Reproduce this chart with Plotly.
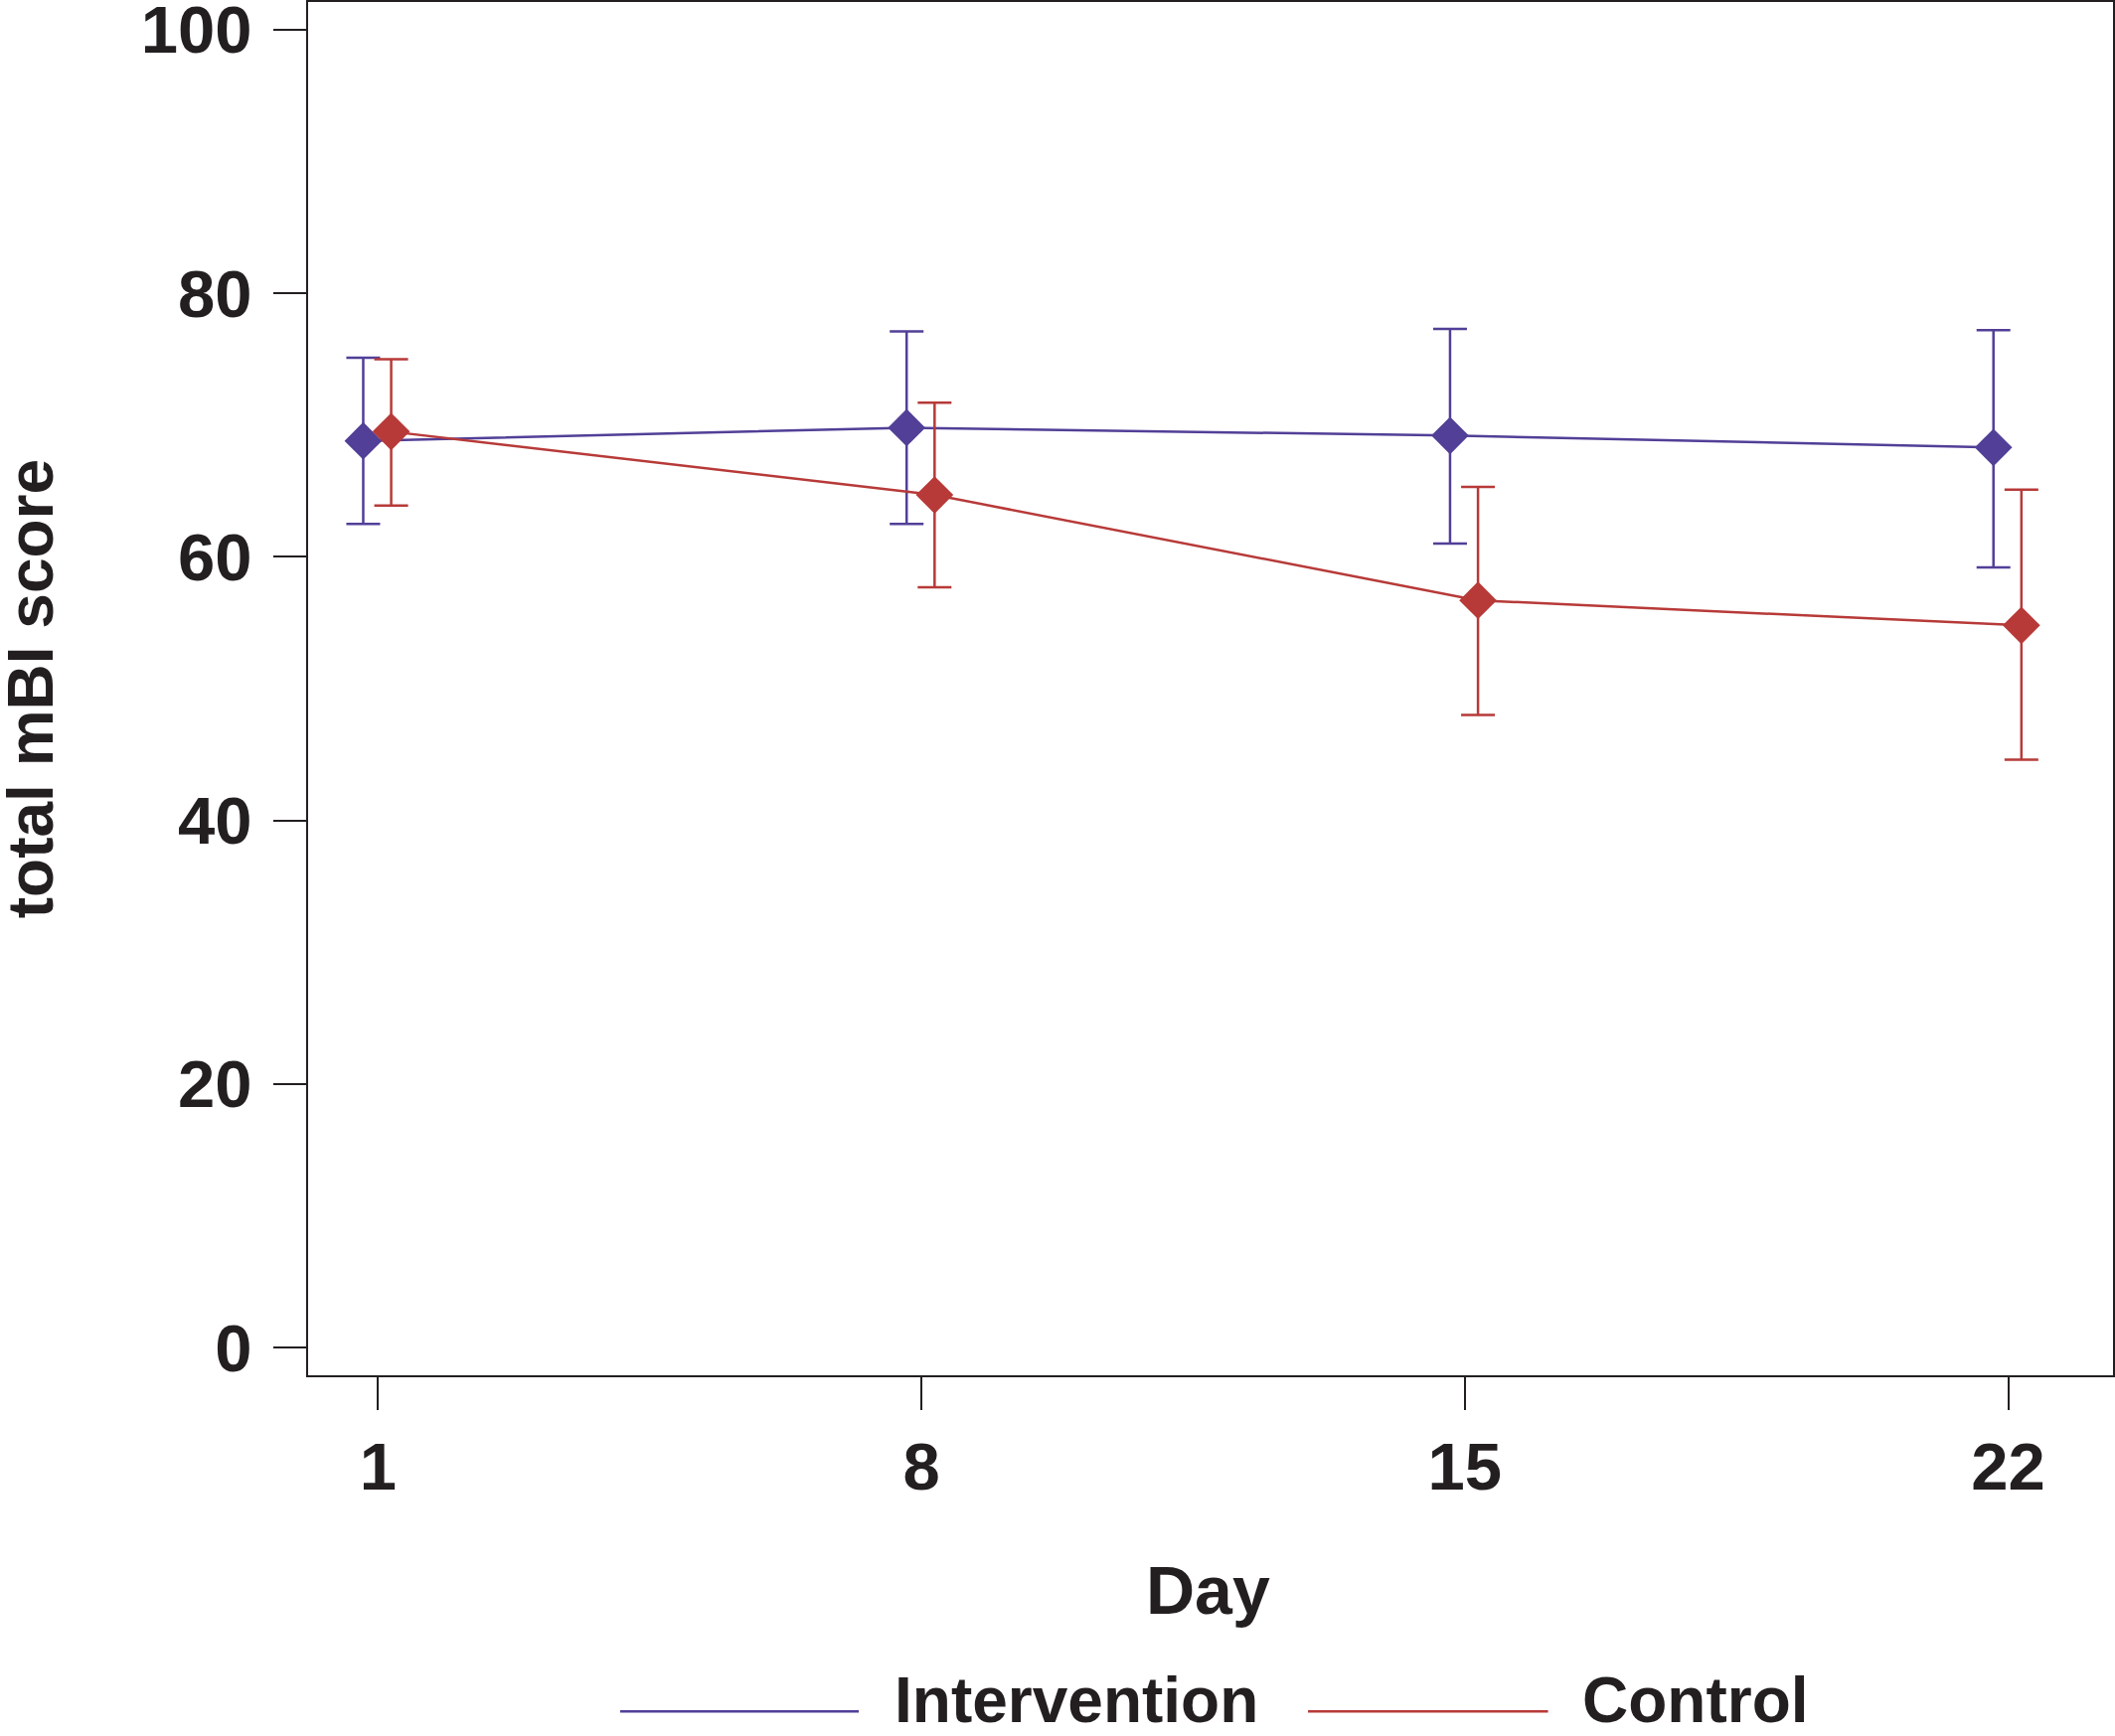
import plotly.graph_objects as go

# ---- data ----
days = [1, 8, 15, 22]
intervention_mean = [68.8, 69.8, 69.2, 68.3]
intervention_lower = [62.5, 62.5, 61.0, 59.2]
intervention_upper = [75.1, 77.1, 77.3, 77.2]
control_mean = [69.5, 64.7, 56.7, 54.8]
control_lower = [63.9, 57.7, 48.0, 44.6]
control_upper = [75.0, 71.7, 65.3, 65.1]
y_ticks = [0, 20, 40, 60, 80, 100]
series_names = ["Intervention", "Control"]
dodge = [-0.19, 0.17]

BLUE = "#523F97"
RED = "#B73A38"
INK = "#231F20"
FONT = "Liberation Sans, Arial, sans-serif"

fig = go.Figure()

for name, mean, lo, hi, off, col in [
    (series_names[0], intervention_mean, intervention_lower, intervention_upper, dodge[0], BLUE),
    (series_names[1], control_mean, control_lower, control_upper, dodge[1], RED),
]:
    fig.add_trace(go.Scatter(
        x=[d + off for d in days], y=mean, name=name, mode="lines+markers",
        line=dict(color=col, width=2.5),
        marker=dict(symbol="diamond", size=29, color=col, line=dict(width=0)),
        error_y=dict(type="data", symmetric=False,
                     array=[h - m for h, m in zip(hi, mean)],
                     arrayminus=[m - l for m, l in zip(mean, lo)],
                     color=col, thickness=2.5, width=17),
        showlegend=False,
    ))

axis_common = dict(showgrid=False, zeroline=False, showline=True, mirror=True,
                   linecolor=INK, linewidth=2, ticks="outside", ticklen=33, tickwidth=2,
                   tickcolor=INK, automargin=False, ticklabeloverflow="allow",
                   tickfont=dict(family=FONT, size=67, color=INK, weight="bold"))

fig.update_layout(
    width=2128, height=1747,
    margin=dict(l=310, r=2, t=2, b=363, autoexpand=False),
    paper_bgcolor="white", plot_bgcolor="white",
    font=dict(family=FONT, color=INK, size=66, weight="bold"),
    xaxis=dict(range=[0.10, 23.35], tickvals=days, ticktext=[str(d) for d in days],
               ticklabelstandoff=0, **axis_common),
    yaxis=dict(range=[-2.1, 102.1], tickvals=y_ticks, ticklabelstandoff=8, **axis_common),
)

# axis titles
fig.add_annotation(text="Day", xref="paper", yref="paper", x=0.4985, y=-0.1565,
                   xanchor="center", yanchor="middle", showarrow=False,
                   font=dict(family=FONT, size=68, color=INK, weight="bold"))
fig.add_annotation(text="total mBI score", xref="paper", yref="paper", x=-0.1535, y=0.5,
                   xanchor="center", yanchor="middle", textangle=-90, showarrow=False,
                   font=dict(family=FONT, size=64, color=INK, weight="bold"))

# custom legend (long line samples as in the original)
legend_y = -0.2447
text_y = -0.2365
for (x0, x1, tx), name, col in zip([(0.1729, 0.3051, 0.3238), (0.554, 0.687, 0.7048)],
                                   series_names, [BLUE, RED]):
    fig.add_shape(type="line", xref="paper", yref="paper", x0=x0, x1=x1,
                  y0=legend_y, y1=legend_y, line=dict(color=col, width=2.5))
    fig.add_annotation(text=name, xref="paper", yref="paper", x=tx, y=text_y,
                       xanchor="left", yanchor="middle", showarrow=False,
                       font=dict(family=FONT, size=64, color=INK, weight="bold"))

fig.write_html("out.html", config={"displayModeBar": False},
               post_script="document.body.style.margin='0';document.body.style.overflow='hidden';")
